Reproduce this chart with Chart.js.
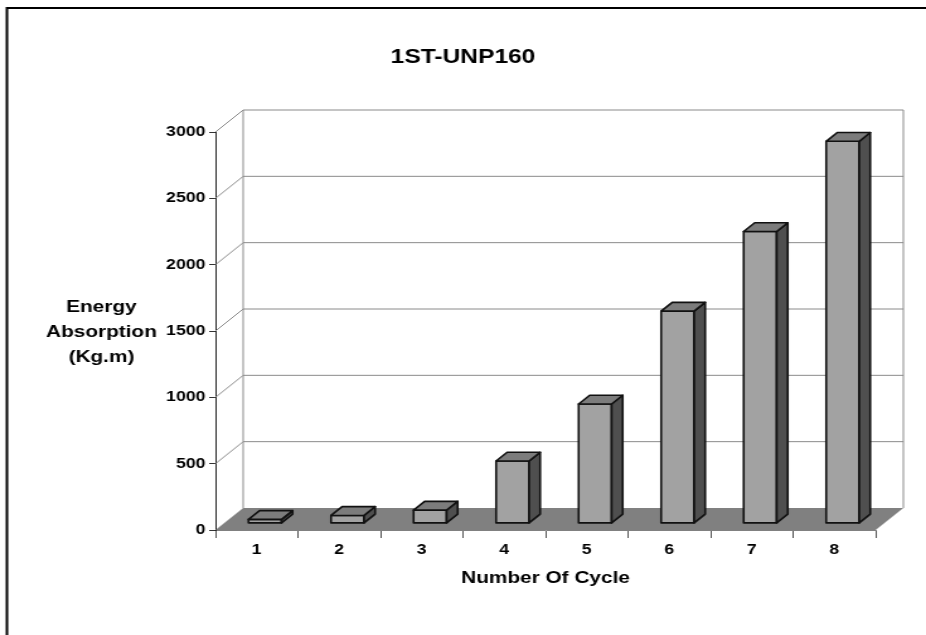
<!DOCTYPE html>
<html>
<head>
<meta charset="utf-8">
<script src="https://cdn.jsdelivr.net/npm/chart.js@4"></script>
<style>
  html, body { margin: 0; padding: 0; background: #fff; overflow: hidden; }
  /* the original picture is stretched sideways, so the chart is drawn narrow and widened */
  #wrap { width: 735px; height: 635px; transform: scaleX(1.2599); transform-origin: 0 0; }
</style>
</head>
<body>
<div id="wrap"><canvas id="c" width="735" height="635"></canvas></div>
<script>
const cycles = ["1", "2", "3", "4", "5", "6", "7", "8"];
const energy = [30, 60, 100, 470, 900, 1600, 2200, 2880];
const yTicks = [0, 500, 1000, 1500, 2000, 2500, 3000];
const chartTitle = "1ST-UNP160";
const xTitle = "Number Of Cycle";
const yTitle = ["Energy", "Absorption", "(Kg.m)"];

const FONT = "'Liberation Sans', Arial, sans-serif";
const DX = 22, DY = -22; // depth of the floor / walls

function poly(ctx, pts, fill, stroke) {
  ctx.beginPath();
  pts.forEach(([px, py], i) => (i ? ctx.lineTo(px, py) : ctx.moveTo(px, py)));
  ctx.closePath();
  if (fill) { ctx.fillStyle = fill; ctx.fill(); }
  if (stroke) { ctx.strokeStyle = stroke; ctx.stroke(); }
}

function line(ctx, pts, color, width = 1) {
  ctx.beginPath();
  pts.forEach(([px, py], i) => (i ? ctx.lineTo(px, py) : ctx.moveTo(px, py)));
  ctx.strokeStyle = color;
  ctx.lineWidth = width;
  ctx.stroke();
}

const box3d = {
  id: "box3d",
  beforeDatasetsDraw(chart) {
    const { ctx, chartArea: a, scales: { y } } = chart;
    const y0 = y.getPixelForValue(0);
    ctx.save();
    // walls: gridlines on the back wall, slanted lines on the left wall
    yTicks.forEach((t) => {
      if (t === 0) return;
      const py = y.getPixelForValue(t);
      line(ctx, [[a.left, py], [a.left + DX, py + DY], [a.right + DX, py + DY]], "#8a8a8a");
    });
    const top = y.getPixelForValue(yTicks[yTicks.length - 1]);
    line(ctx, [[a.left + DX, top + DY], [a.left + DX, y0 + DY]], "#8a8a8a");
    line(ctx, [[a.right + DX, top + DY], [a.right + DX, y0 + DY]], "#8a8a8a");
    // floor
    poly(ctx, [[a.left, y0], [a.right, y0], [a.right + DX, y0 + DY], [a.left + DX, y0 + DY]], "#808080");
    ctx.restore();
  },
  afterDatasetsDraw(chart) {
    const { ctx } = chart;
    const meta = chart.getDatasetMeta(0);
    const fx = DX * 0.3, fy = DY * 0.3, dx = DX * 0.4, dy = DY * 0.4;
    ctx.save();
    ctx.lineWidth = 1.6;
    ctx.lineJoin = "round";
    meta.data.forEach((bar) => {
      const { x, y, base, width } = bar.getProps(["x", "y", "base", "width"], true);
      const l = x - width / 2 + fx, r = x + width / 2 + fx, t = y + fy, b = base + fy;
      poly(ctx, [[l, b], [l, t], [r, t], [r, b]], "#a2a2a2", "#111");
      poly(ctx, [[r, b], [r, t], [r + dx, t + dy], [r + dx, b + dy]], "#4f4f4f", "#111");
      poly(ctx, [[l, t], [r, t], [r + dx, t + dy], [l + dx, t + dy]], "#7c7c7c", "#111");
    });
    ctx.restore();
  },
  afterDraw(chart) {
    const { ctx, chartArea: a } = chart;
    ctx.save();
    ctx.fillStyle = "#000";
    ctx.textAlign = "center";
    ctx.textBaseline = "middle";
    ctx.font = `bold 19.5px ${FONT}`;
    ctx.fillText(chartTitle, chart.width / 2, 58);
    ctx.font = `bold 16.5px ${FONT}`;
    ctx.fillText(xTitle, (a.left + a.right) / 2, 578);
    ctx.font = `bold 16.5px ${FONT}`;
    yTitle.forEach((s, i) => ctx.fillText(s, 80.5, 307 + i * 25));
    // outer frame
    ctx.strokeStyle = "#000";
    ctx.lineWidth = 2;
    ctx.strokeRect(5.5, 8, 1000, 1000);
    ctx.restore();
  }
};

const tickFont = { family: FONT, size: 14, weight: "bold" };

new Chart(document.getElementById("c"), {
  type: "bar",
  data: {
    labels: cycles,
    datasets: [{
      data: energy,
      backgroundColor: "rgba(0,0,0,0)",
      borderWidth: 0,
      barPercentage: 0.4,
      categoryPercentage: 1
    }]
  },
  options: {
    responsive: false,
    animation: false,
    layout: { padding: { left: 121, right: 40, top: 132, bottom: 0 } },
    plugins: { legend: { display: false }, tooltip: { enabled: false } },
    scales: {
      x: {
        grid: { offset: true, drawOnChartArea: false, tickLength: 8, color: "#555" },
        border: { color: "#808080" },
        ticks: { color: "#000", font: tickFont, padding: 4, maxRotation: 0 },
        afterFit: (s) => { s.height = 105; }
      },
      y: {
        min: 0,
        max: 3000,
        afterBuildTicks: (s) => { s.ticks = yTicks.map((v) => ({ value: v })); },
        grid: { drawOnChartArea: false, tickLength: 5, color: "#333" },
        border: { color: "#222" },
        ticks: { color: "#000", font: tickFont, padding: 3, callback: (v) => String(v) },
        afterFit: (s) => { s.width = 50; }
      }
    }
  },
  plugins: [box3d]
});
</script>
</body>
</html>
